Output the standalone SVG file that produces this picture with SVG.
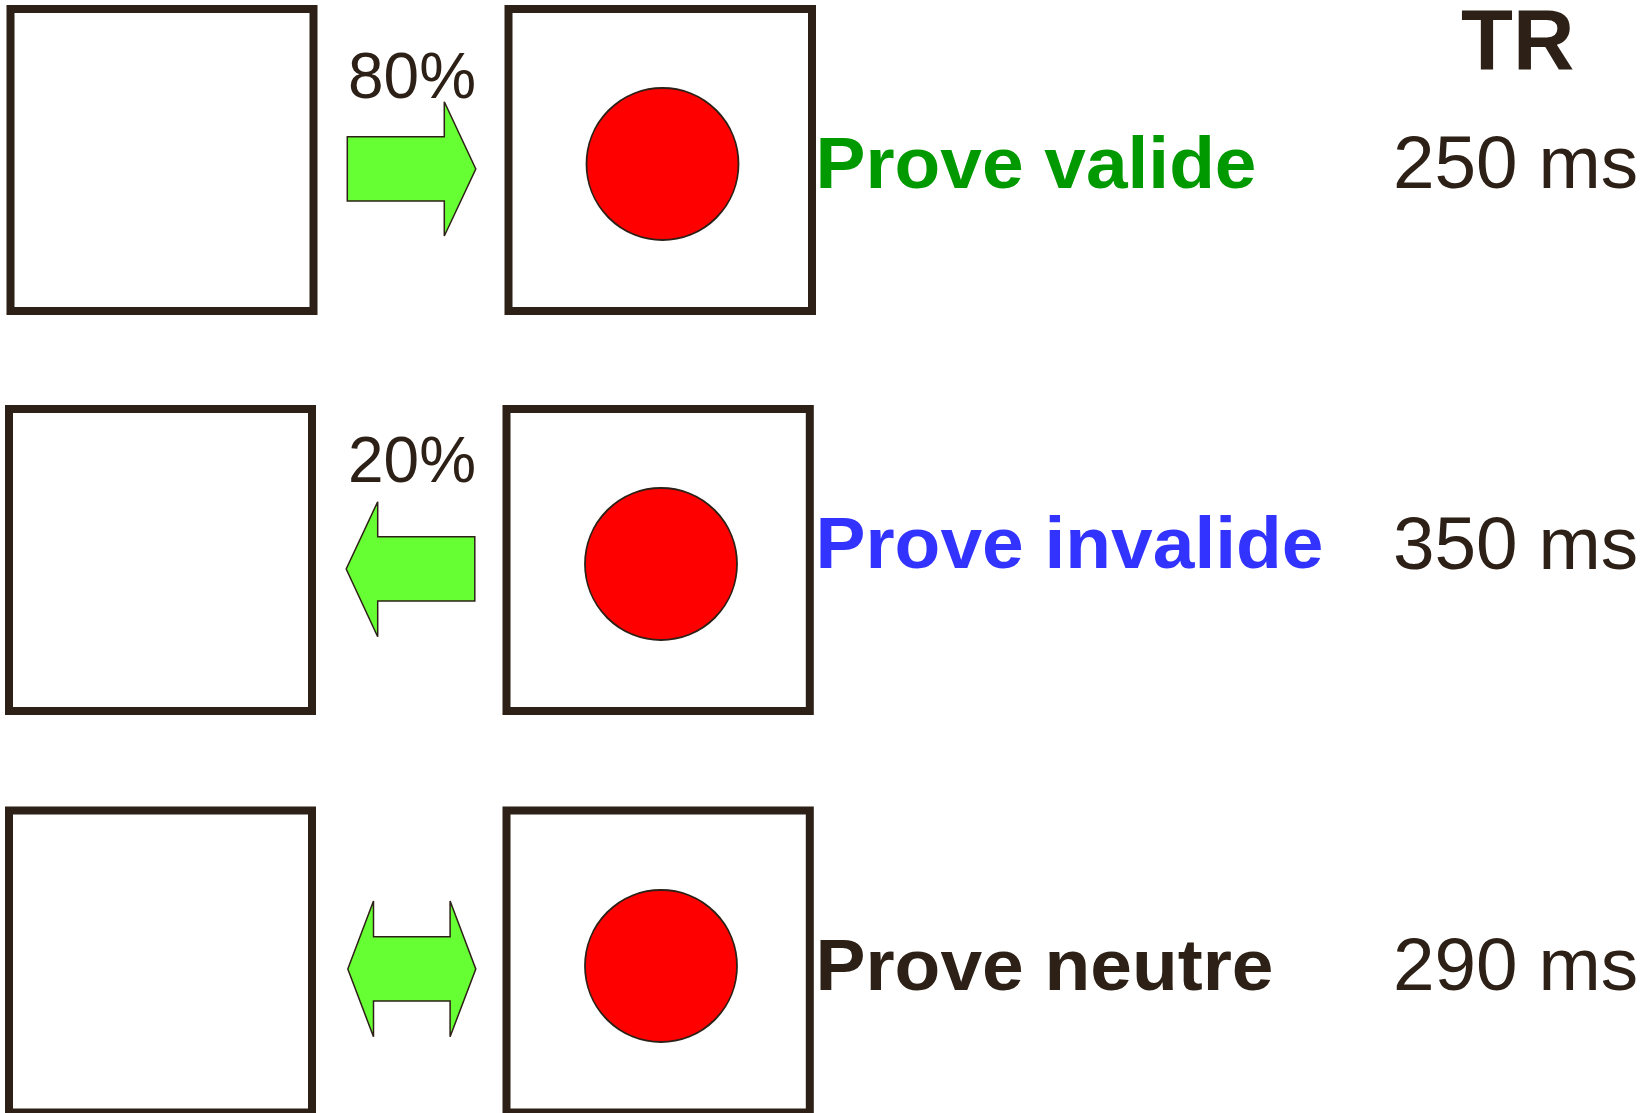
<svg xmlns="http://www.w3.org/2000/svg" width="1651" height="1113" viewBox="0 0 1651 1113">
<style>
.box{fill:#ffffff;stroke:#2d2016;stroke-width:8}
.dot{fill:#ff0000;stroke:#2d2016;stroke-width:1.8}
.arr{fill:#66ff33;stroke:#2d2016;stroke-width:1.5;stroke-linejoin:miter}
.lbl{font-family:"Liberation Sans",Arial,sans-serif;font-weight:bold;font-size:73px}
.ms{font-family:"Liberation Sans",Arial,sans-serif;font-size:74px;fill:#2d2016}
.pct{font-family:"Liberation Sans",Arial,sans-serif;font-size:64px;fill:#2d2016}
</style>
<rect width="1651" height="1113" fill="#ffffff"/>
<g id="row1-cue"><rect class="box" x="10.5" y="9" width="303" height="302"/></g>
<g id="row1-target"><rect class="box" x="508.5" y="9" width="303.5" height="302"/><circle class="dot" cx="662.5" cy="164" r="76"/></g>
<g id="row2-cue"><rect class="box" x="9" y="409" width="303" height="302"/></g>
<g id="row2-target"><rect class="box" x="506.5" y="409" width="303.3" height="302"/><circle class="dot" cx="661" cy="564" r="76"/></g>
<g id="row3-cue"><rect class="box" x="9" y="810.5" width="303" height="302"/></g>
<g id="row3-target"><rect class="box" x="506.5" y="810.5" width="303.3" height="302"/><circle class="dot" cx="661" cy="966" r="76"/></g>
<g id="connectors">
<polygon class="arr" points="347.3,136.7 444.3,136.7 444.3,101.7 475.8,169 444.3,236 444.3,201 347.3,201"/>
<polygon class="arr" points="474.8,536.7 377.7,536.7 377.7,501.7 346.2,569 377.7,636.7 377.7,601 474.8,601"/>
<polygon class="arr" points="347.8,969 373.5,901 373.5,936.7 450.1,936.7 450.1,901 475.8,969 450.1,1036.7 450.1,1001 373.5,1001 373.5,1036.7"/>
</g>
<g id="labels">
<text class="pct" x="348" y="97.7" textLength="128" lengthAdjust="spacingAndGlyphs">80%</text>
<text class="pct" x="348" y="481.7" textLength="128" lengthAdjust="spacingAndGlyphs">20%</text>
<text x="1461" y="69.3" font-family="Liberation Sans, Arial, sans-serif" font-weight="bold" font-size="85" fill="#2d2016">TR</text>
<text class="lbl" x="815.5" y="187.5" fill="#009900" textLength="441" lengthAdjust="spacingAndGlyphs">Prove valide</text>
<text class="lbl" x="815.5" y="568" fill="#3333ff" textLength="508" lengthAdjust="spacingAndGlyphs">Prove invalide</text>
<text class="lbl" x="815.5" y="990" fill="#2d2016" textLength="458" lengthAdjust="spacingAndGlyphs">Prove neutre</text>
<text class="ms" x="1393" y="188" textLength="245" lengthAdjust="spacingAndGlyphs">250 ms</text>
<text class="ms" x="1393" y="569" textLength="245" lengthAdjust="spacingAndGlyphs">350 ms</text>
<text class="ms" x="1393" y="990" textLength="245" lengthAdjust="spacingAndGlyphs">290 ms</text>
</g>
</svg>
